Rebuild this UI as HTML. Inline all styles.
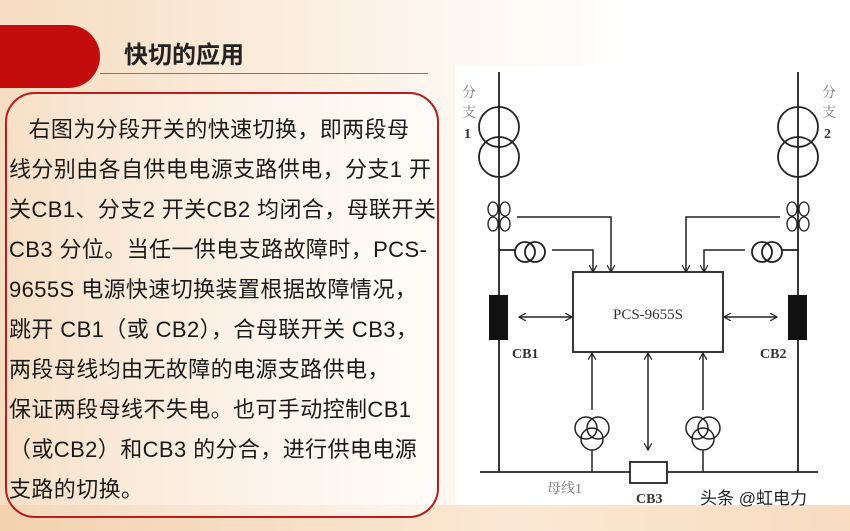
<!DOCTYPE html>
<html><head><meta charset="utf-8"><style>
body{margin:0;width:850px;height:531px;overflow:hidden;position:relative;
background:linear-gradient(90deg,#f6dcc0 0%,#fbeee0 35%,#fdf8f2 55%,#fff 75%);font-family:"Liberation Sans","Noto Sans CJK SC",sans-serif;}
.bottom{position:absolute;left:0;top:505px;width:850px;height:26px;background:linear-gradient(90deg,#f3d2b0,#fbe8d4 60%,#f7dcc0);}
.pill{position:absolute;left:-30px;top:25px;width:130px;height:63px;background:#c30d0d;border-radius:0 32px 32px 0;}
.title{position:absolute;left:124px;top:35px;font-size:24px;font-weight:bold;color:#222;}
.rule{position:absolute;left:100px;top:73px;width:328px;height:1px;background:#b06060;}
.box{position:absolute;left:5px;top:92px;width:434px;height:426px;border:2px solid #b81c1c;border-radius:30px;box-sizing:border-box;background:linear-gradient(90deg,rgba(255,255,255,0.1),rgba(255,255,255,0.6));}
.txt{position:absolute;left:9px;top:110px;width:430px;font-size:22px;letter-spacing:0.4px;line-height:40px;color:#1a1a1a;white-space:nowrap;}
.dia{position:absolute;left:455px;top:65px;width:380px;height:440px;background:#fff;}
</style></head><body>
<div class="bottom"></div>
<div class="pill"></div>
<div class="title">快切的应用</div>
<div class="rule"></div>
<div class="box"></div>
<div class="txt">&nbsp;&nbsp;&nbsp;右图为分段开关的快速切换，即两段母<br>线分别由各自供电电源支路供电，分支1 开<br>关CB1、分支2 开关CB2 均闭合，母联开关<br>CB3 分位。当任一供电支路故障时，PCS-<br>9655S 电源快速切换装置根据故障情况，<br>跳开 CB1（或 CB2），合母联开关 CB3，<br>两段母线均由无故障的电源支路供电，<br>保证两段母线不失电。也可手动控制CB1<br>（或CB2）和CB3 的分合，进行供电电源<br>支路的切换。</div>
<div class="dia"></div>
<svg width="850" height="531" style="position:absolute;left:0;top:0" font-family="Liberation Serif,Noto Serif CJK SC,serif">
<defs><marker id="a" markerWidth="8" markerHeight="8" refX="7" refY="4" orient="auto-start-reverse" markerUnits="userSpaceOnUse"><path d="M0,0 L7,4 L0,8" fill="none" stroke="#222" stroke-width="1.2"/></marker></defs>
<g stroke="#222" stroke-width="1.8" fill="none">
<line x1="499" y1="72" x2="499" y2="472"/><line x1="798" y1="72" x2="798" y2="472"/>
<circle cx="499" cy="127" r="20"/><circle cx="499" cy="157" r="20"/>
<circle cx="798" cy="127" r="20"/><circle cx="798" cy="157" r="20"/>
<g stroke-width="1.3">
<ellipse cx="493" cy="209" rx="5" ry="7"/><ellipse cx="505" cy="209" rx="5" ry="7"/><ellipse cx="493" cy="224" rx="5" ry="7"/><ellipse cx="505" cy="224" rx="5" ry="7"/>
<ellipse cx="792" cy="209" rx="5" ry="7"/><ellipse cx="804" cy="209" rx="5" ry="7"/><ellipse cx="792" cy="224" rx="5" ry="7"/><ellipse cx="804" cy="224" rx="5" ry="7"/>
</g>
<line x1="499" y1="250" x2="515" y2="250"/><circle cx="525" cy="252" r="10"/><circle cx="535" cy="252" r="10"/>
<line x1="798" y1="250" x2="782" y2="250"/><circle cx="772" cy="252" r="10"/><circle cx="762" cy="252" r="10"/>
<g stroke-width="1.5">
<polyline points="517,217 611,217 611,272" marker-end="url(#a)"/>
<polyline points="552,250 593,250 593,272" marker-end="url(#a)"/>
<polyline points="780,217 686,217 686,272" marker-end="url(#a)"/>
<polyline points="745,250 704,250 704,272" marker-end="url(#a)"/>
<line x1="519" y1="317" x2="572" y2="317" marker-start="url(#a)" marker-end="url(#a)"/>
<line x1="724" y1="317" x2="777" y2="317" marker-start="url(#a)" marker-end="url(#a)"/>
<line x1="592" y1="410" x2="592" y2="353" marker-end="url(#a)"/>
<line x1="703" y1="410" x2="703" y2="353" marker-end="url(#a)"/>
<line x1="648" y1="353" x2="648" y2="450" marker-start="url(#a)" marker-end="url(#a)"/>
</g>
<rect x="573" y="272" width="150" height="80"/>
<line x1="480" y1="472" x2="818" y2="472"/>
<rect x="630" y="462" width="37" height="21" fill="#fff"/>
<g stroke-width="1.5"><circle cx="586" cy="428" r="11"/><circle cx="598" cy="428" r="11"/><circle cx="592" cy="439" r="11"/><line x1="592" y1="450" x2="592" y2="472"/>
<circle cx="697" cy="428" r="11"/><circle cx="709" cy="428" r="11"/><circle cx="703" cy="439" r="11"/><line x1="703" y1="450" x2="703" y2="472"/></g>
</g>
<rect x="489" y="295" width="19" height="45" fill="#111"/><rect x="788" y="295" width="19" height="45" fill="#111"/>
<g fill="#333" font-size="14">
<text x="648" y="319" text-anchor="middle" font-size="15">PCS-9655S</text>
<text x="512" y="358" font-weight="bold">CB1</text><text x="760" y="358" font-weight="bold">CB2</text>
<text x="636" y="503" font-weight="bold">CB3</text>
<text x="547" y="493" fill="#777">母线1</text>
<text x="462" y="97" fill="#777">分</text><text x="462" y="117" fill="#777">支</text><text x="464" y="138" font-weight="bold">1</text>
<text x="822" y="97" fill="#777">分</text><text x="822" y="117" fill="#777">支</text><text x="824" y="138" font-weight="bold">2</text>
</g>
<text x="700" y="504" font-family="Liberation Sans,Noto Sans CJK SC,sans-serif" font-size="17" fill="#222">头条 @虹电力</text>
</svg>
</body></html>
